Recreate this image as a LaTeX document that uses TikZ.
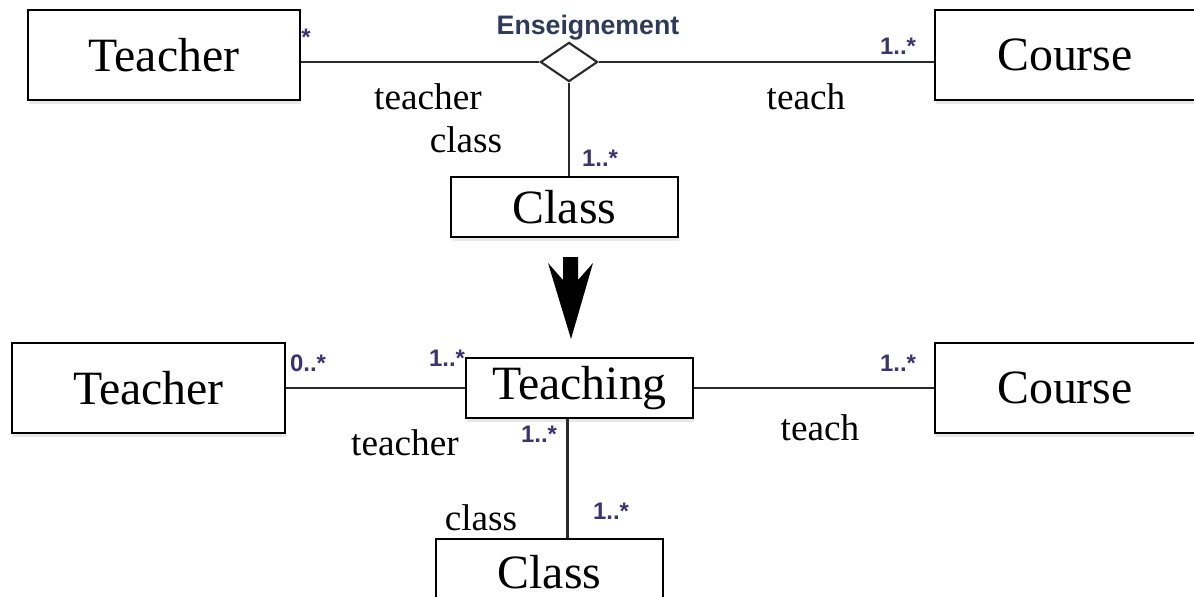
\documentclass[tikz,border=0pt]{standalone}
\usepackage{fontspec}
\setmainfont{Liberation Serif}
\setsansfont{Liberation Sans}
\usepackage{xcolor}
\usepackage{tikz}
\usetikzlibrary{positioning,calc,shapes.geometric,shadows}
\definecolor{lineink}{HTML}{2A2A2A}
\definecolor{multink}{HTML}{3A3470}
\definecolor{assocink}{HTML}{2E3B58}

\tikzset{
  classbox/.style={draw=black,line width=2pt,fill=white,inner sep=0pt,
    font=\fontsize{34}{38}\selectfont,
    drop shadow={shadow xshift=1pt,shadow yshift=-2.5pt,opacity=.18}},
  rolelbl/.style={font=\fontsize{26.5}{30}\selectfont,inner sep=0pt},
  multlbl/.style={font=\sffamily\bfseries\fontsize{17}{19}\selectfont,
    text=multink,inner sep=0pt},
  assoc/.style={lineink,line width=1.5pt}
}

\begin{document}
\begin{tikzpicture}[x=0.025cm,y=-0.025cm]
  \useasboundingbox (0,0) rectangle (1194,597);

  % before: n-ary association
  \node[classbox,minimum width=6.8cm,minimum height=2.25cm] (teacherA)
    at (164,55) {Teacher};
  \node[classbox,minimum width=6.5cm,minimum height=2.25cm] (courseA)
    at (1065,55) {Course};
  \node[classbox,minimum width=5.675cm,minimum height=1.5cm] (classA)
    at (564.5,207) {Class};
  \node[diamond,draw=lineink,line width=1.5pt,fill=white,inner sep=0pt,
    minimum width=1.43cm,minimum height=0.98cm] (ensA) at (569,62) {};
  \draw[assoc] (ensA.west) -- (teacherA.east |- ensA.west);
  \draw[assoc] (ensA.east) -- (courseA.west |- ensA.east);
  \draw[assoc] (ensA.south) -- (ensA.south |- classA.north);
  \node[font=\sffamily\bfseries\fontsize{19}{22}\selectfont,text=assocink,
    inner sep=0pt] (ensLbl) at (588,28) {Enseignement};
  \node[multlbl] (mTeacherA) at (306,37) {*};
  \node[multlbl] (mCourseA) at (898,46) {1..*};
  \node[multlbl] (mClassA) at (600,158) {1..*};
  \node[rolelbl] (rTeacherA) at (428,97) {teacher};
  \node[rolelbl] (rTeachA) at (806,97) {teach};
  \node[rolelbl] (rClassA) at (466,140) {class};

  % transformation
  \fill[black] (563,257) -- (578,257) -- (578,280) -- (593,263) -- (571,339)
    -- (548,263) -- (563,280) -- cycle;

  % after: association class
  \node[classbox,minimum width=6.825cm,minimum height=2.25cm] (teacherB)
    at (148.5,388) {Teacher};
  \node[classbox,minimum width=6.5cm,minimum height=2.25cm] (courseB)
    at (1065,388) {Course};
  \node[classbox,minimum width=5.675cm,minimum height=1.5cm] (teachingB)
    at (579.5,388) {Teaching};
  \node[classbox,minimum width=5.675cm,minimum height=1.65cm] (classB)
    at (549.5,572) {Class};
  \draw[assoc] (teacherB.east) -- (teachingB.west);
  \draw[assoc] (teachingB.east) -- (courseB.west);
  \draw[assoc] ([xshift=-0.3cm]teachingB.south)
    -- ([xshift=-0.3cm]teachingB.south |- classB.north);
  \node[multlbl] (mTeacherB) at (308,363) {0..*};
  \node[multlbl] (mTeachTB) at (447,358) {1..*};
  \node[multlbl] (mCourseB) at (898,363) {1..*};
  \node[multlbl] (mTeachCB) at (539,434) {1..*};
  \node[multlbl] (mClassB) at (611,511) {1..*};
  \node[rolelbl] (rTeacherB) at (405,443) {teacher};
  \node[rolelbl] (rTeachB) at (820,428) {teach};
  \node[rolelbl] (rClassB) at (481,518) {class};
\end{tikzpicture}
\end{document}
